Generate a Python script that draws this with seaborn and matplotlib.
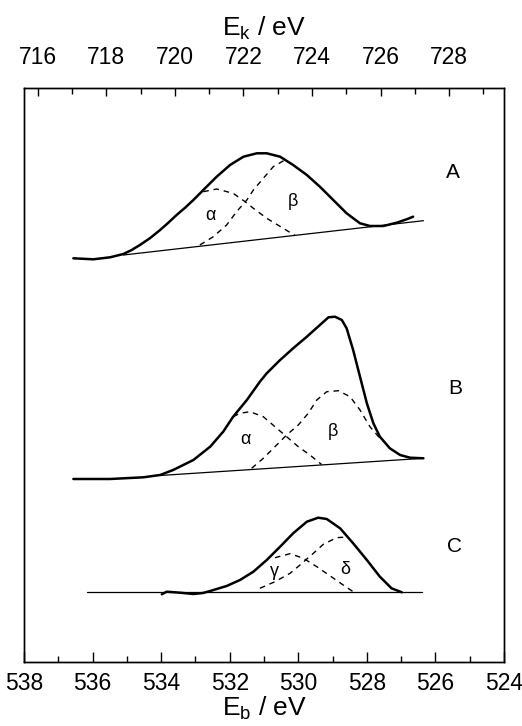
import matplotlib
matplotlib.use("Agg")
import matplotlib.pyplot as plt
from matplotlib.ticker import MultipleLocator
import seaborn as sns
import pandas as pd

# Photon energy (Mg K-alpha) linking binding and kinetic energy scales
HV = 1253.6

# ---- Spectrum A ----
a_env_eb = [536.56, 535.98, 535.49, 535.10, 534.86, 534.62, 534.33, 534.03, 533.79,
            533.55, 533.30, 533.06, 532.77, 532.38, 531.99, 531.60, 531.21, 530.92,
            530.53, 530.15, 529.75, 529.37, 528.98, 528.59, 528.20, 527.91, 527.52,
            527.13, 526.84, 526.65]
a_env_i = [403.7, 402.7, 404.7, 408.0, 412.0, 417.0, 423.7, 432.0, 439.3,
           447.0, 454.3, 462.0, 472.0, 485.3, 497.0, 505.3, 508.7, 508.7,
           505.3, 497.0, 487.0, 475.3, 462.0, 448.7, 438.7, 436.0, 436.0,
           439.3, 442.7, 445.3]
a_base_eb = [535.10, 526.35]
a_base_i = [407.0, 441.3]
a_alpha_eb = [532.77, 532.38, 531.90, 531.55, 531.31, 530.92, 530.44, 530.10]
a_alpha_i = [470.3, 473.0, 468.7, 460.3, 453.7, 443.7, 433.7, 426.6]
a_beta_eb = [532.87, 532.48, 532.09, 531.80, 531.50, 531.31, 531.02, 530.73, 530.39]
a_beta_i = [417.0, 425.3, 437.0, 450.3, 462.0, 472.0, 483.7, 495.3, 502.0]

# ---- Spectrum B ----
b_env_eb = [536.56, 535.49, 534.52, 534.03, 533.65, 533.06, 532.57, 532.19, 531.90,
            531.50, 531.12, 530.92, 530.53, 530.15, 529.75, 529.37, 529.12, 528.93,
            528.73, 528.59, 528.40, 528.20, 528.00, 527.81, 527.62, 527.33, 527.03,
            526.74, 526.35]
b_env_i = [183.0, 183.0, 184.7, 187.0, 192.0, 202.0, 215.3, 230.3, 245.3,
           262.0, 280.3, 288.7, 302.0, 313.7, 325.3, 337.0, 344.7, 345.3,
           342.0, 333.7, 312.0, 285.3, 258.7, 238.7, 225.3, 213.7, 207.0,
           204.3, 203.7]
b_base_eb = [534.03, 526.35]
b_base_i = [186.5, 203.7]
b_alpha_eb = [531.90, 531.70, 531.41, 531.02, 530.68, 530.34, 530.00, 529.66, 529.32]
b_alpha_i = [245.3, 248.7, 250.3, 245.3, 235.3, 225.3, 215.3, 207.0, 197.5]
b_beta_eb = [531.36, 531.02, 530.68, 530.34, 530.00, 529.71, 529.46, 529.17, 528.83,
             528.49, 528.20, 527.91, 527.62, 527.33]
b_beta_i = [193.7, 203.7, 215.3, 227.0, 237.0, 248.7, 262.0, 270.3, 271.3,
            265.3, 252.0, 235.3, 223.7, 215.3]

# ---- Spectrum C ----
c_env_eb = [533.98, 533.84, 533.45, 533.06, 532.78, 532.57, 532.09, 531.70, 531.31,
            530.92, 530.53, 530.15, 529.75, 529.42, 529.17, 528.78, 528.40, 528.00,
            527.62, 527.28, 526.98]
c_env_i = [67.7, 70.3, 69.3, 68.0, 69.0, 71.0, 76.0, 82.0, 90.3,
           102.0, 115.3, 128.7, 140.3, 144.3, 143.0, 133.7, 118.7, 102.0,
           85.3, 73.7, 69.7]
c_base_eb = [536.17, 526.40]
c_base_i = [69.7, 69.7]
c_gamma_eb = [530.68, 530.24, 529.85, 529.46, 529.08, 528.69, 528.40]
c_gamma_i = [104.3, 108.3, 103.7, 95.3, 86.3, 77.0, 70.3]
c_delta_eb = [531.12, 530.68, 530.24, 529.95, 529.56, 529.27, 528.88, 528.73, 528.55]
c_delta_i = [73.7, 80.3, 88.7, 97.0, 108.7, 117.7, 124.3, 124.7, 124.0]

# Component labels (text, Eb, intensity)
comp_labels = [("α", 532.57, 447), ("β", 530.17, 460),
               ("α", 531.55, 222), ("β", 528.98, 230),
               ("γ", 530.71, 90), ("δ", 528.62, 92)]
spec_labels = [("A", 525.48, 490), ("B", 525.43, 274), ("C", 525.43, 115)]

sns.set_style("ticks")
plt.rcParams["font.family"] = ["Liberation Sans", "DejaVu Sans"]
plt.rcParams["mathtext.fontset"] = "custom"
plt.rcParams["mathtext.rm"] = "Liberation Sans"
plt.rcParams["mathtext.it"] = "Liberation Sans:italic"
plt.rcParams["text.color"] = "black"
plt.rcParams["axes.labelcolor"] = "black"
plt.rcParams["xtick.color"] = "black"
plt.rcParams["xtick.labelcolor"] = "black"

fig = plt.figure(figsize=(5.22, 7.26), dpi=100)
ax = fig.add_axes([24 / 522, 64 / 726, 480 / 522, 574 / 726])


def draw(eb, inten, style):
    df = pd.DataFrame({"Eb": eb, "I": inten})
    if style == "env":
        kw = dict(lw=1.8)
    elif style == "base":
        kw = dict(lw=0.9)
    else:
        kw = dict(lw=1.0, linestyle=(0, (4, 3.5)))
    sns.lineplot(data=df, x="Eb", y="I", sort=False, color="black",
                 estimator=None, ax=ax, **kw)


for eb, inten, st in [
    (a_env_eb, a_env_i, "env"), (a_base_eb, a_base_i, "base"),
    (a_alpha_eb, a_alpha_i, "comp"), (a_beta_eb, a_beta_i, "comp"),
    (b_env_eb, b_env_i, "env"), (b_base_eb, b_base_i, "base"),
    (b_alpha_eb, b_alpha_i, "comp"), (b_beta_eb, b_beta_i, "comp"),
    (c_env_eb, c_env_i, "env"), (c_base_eb, c_base_i, "base"),
    (c_gamma_eb, c_gamma_i, "comp"), (c_delta_eb, c_delta_i, "comp"),
]:
    draw(eb, inten, st)

for txt, x, y in comp_labels:
    ax.text(x, y, txt, fontsize=13, ha="center", va="center", color="black")
for txt, x, y in spec_labels:
    ax.text(x, y, txt, fontsize=15, ha="center", va="center", color="black")

ax.set_xlim(538, 524)
ax.set_ylim(0, 574)
ax.set_yticks([])
ax.set_ylabel("")
ax.xaxis.set_major_locator(MultipleLocator(2))
ax.xaxis.set_minor_locator(MultipleLocator(1))
ax.tick_params(axis="x", which="both", bottom=True, top=False,
               labelbottom=True, labeltop=False)
ax.tick_params(axis="x", which="major", direction="in", length=7, width=1,
               labelsize=16.5, pad=7)
ax.tick_params(axis="x", which="minor", direction="in", length=4.5, width=1)
ax.set_xlabel("E$_\\mathrm{b}$ / eV", fontsize=19, labelpad=0)

# Kinetic energy scale on the top edge
top = ax.twiny()
top.set_xlim(HV - 538, HV - 524)
top.xaxis.set_major_locator(MultipleLocator(2))
top.xaxis.set_minor_locator(MultipleLocator(1))
top.tick_params(axis="x", which="both", top=True, bottom=False,
                labeltop=True, labelbottom=False)
top.tick_params(axis="x", which="major", direction="in", length=6, width=1,
                labelsize=16.5, pad=14)
top.tick_params(axis="x", which="minor", direction="in", length=4, width=1)
top.set_yticks([])
top.set_xlabel("E$_\\mathrm{k}$ / eV", fontsize=19, labelpad=7)

for a in (ax, top):
    for s in a.spines.values():
        s.set_linewidth(1.0)
        s.set_color("black")

fig.savefig("out.png", dpi=100)
